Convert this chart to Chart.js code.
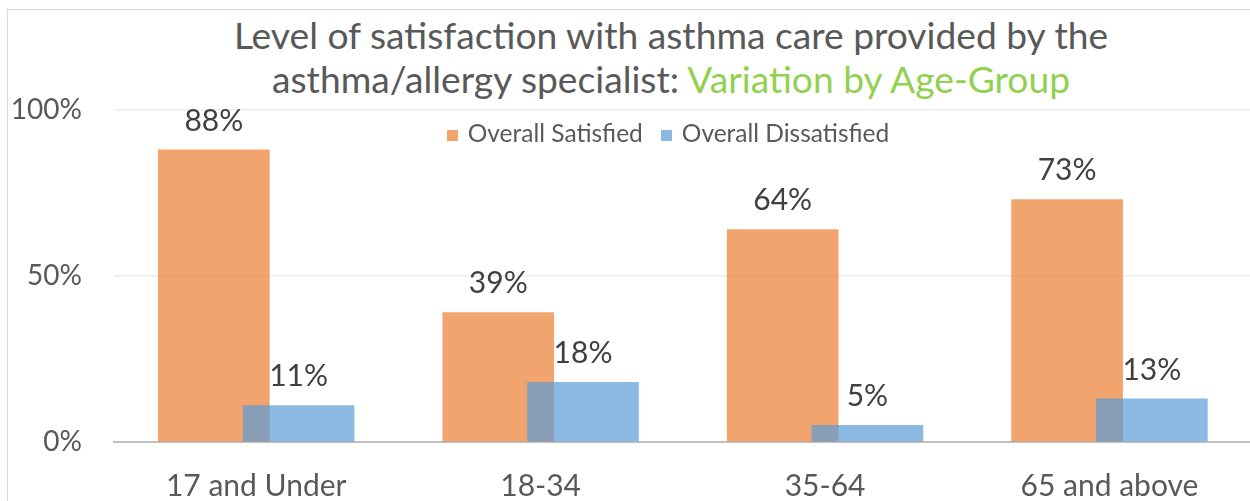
<!DOCTYPE html>
<html>
<head>
<meta charset="utf-8">
<script src="https://cdn.jsdelivr.net/npm/chart.js@4.4.1/dist/chart.umd.min.js"></script>
<style>
  html, body { margin: 0; padding: 0; background: #fff; }
  #wrap { position: relative; width: 1250px; height: 501px; overflow: hidden; }
  #frame { position: absolute; left: 7px; top: 9px; right: -2px; bottom: -2px;
    border-left: 1px solid #d9d9d9; border-top: 1px solid #d9d9d9; }
  #title { position: absolute; left: 92px; top: 13px; width: 1158px; text-align: center;
    font-family: Lato, sans-serif; font-size: 37.2px; line-height: 44px; color: #595959; }
  #title .hl { color: #92d050; }
  #legend { position: absolute; left: 0; top: 118px; width: 1336px; text-align: center;
    font-family: Lato, sans-serif; font-size: 24.5px; line-height: 30px; color: #595959; z-index: 2; }
  #legend .item { display: inline-block; margin: 0 9px; }
  #legend .box { display: inline-block; width: 11px; height: 11px; margin-right: 10px; vertical-align: 1px; }
  canvas { position: absolute; left: 0; top: 0; }
</style>
</head>
<body>
<div id="wrap">
  <div id="frame"></div>
  <div id="title">Level of satisfaction with asthma care provided by the<br>asthma/allergy specialist: <span class="hl">Variation by Age-Group</span></div>
  <canvas id="ageChart" width="1250" height="501"></canvas>
  <div id="legend"></div>
</div>
<script>
const categories = ['17 and Under', '18-34', '35-64', '65 and above'];
const satisfied = [88, 39, 64, 73];
const dissatisfied = [11, 18, 5, 13];
const seriesNames = ['Overall Satisfied', 'Overall Dissatisfied'];
const seriesColors = ['rgba(237,125,49,0.7)', 'rgba(91,155,213,0.7)'];

// bars of a group overlap, so place them on a linear axis around each category
const shift = 0.149;

const valueLabels = {
  id: 'valueLabels',
  afterDatasetsDraw(chart) {
    const ctx = chart.ctx;
    ctx.save();
    ctx.font = '30px Lato';
    ctx.fillStyle = '#404040';
    ctx.textAlign = 'center';
    ctx.textBaseline = 'middle';
    chart.data.datasets.forEach((ds, i) => {
      chart.getDatasetMeta(i).data.forEach((bar, j) => {
        ctx.fillText(ds.data[j].y + '%', bar.x, bar.y - 29);
      });
    });
    ctx.restore();
  }
};

const chart = new Chart('ageChart', {
  type: 'bar',
  data: {
    datasets: [
      {
        label: seriesNames[0],
        data: satisfied.map((v, i) => ({ x: i - shift, y: v })),
        backgroundColor: seriesColors[0],
        order: 1
      },
      {
        label: seriesNames[1],
        data: dissatisfied.map((v, i) => ({ x: i + shift, y: v })),
        backgroundColor: seriesColors[1],
        order: 0
      }
    ]
  },
  options: {
    responsive: false,
    animation: false,
    grouped: false,
    barThickness: 111,
    layout: { padding: { top: 110, left: 0, right: 0, bottom: 0 } },
    plugins: {
      tooltip: { enabled: false },
      legend: { display: false }
    },
    scales: {
      x: {
        type: 'linear',
        offset: false,
        min: -0.5,
        max: 3.494,
        grid: { display: false, drawTicks: false },
        border: { color: '#bfbfbf', width: 2 },
        afterBuildTicks: (scale) => { scale.ticks = categories.map((c, i) => ({ value: i })); },
        afterFit: (scale) => { scale.height = 59; },
        ticks: {
          padding: 26,
          color: '#595959',
          font: { family: 'Lato', size: 30 },
          callback: (v) => categories[v]
        }
      },
      y: {
        min: 0,
        max: 100,
        grid: { color: '#ededed', lineWidth: 1.5, drawTicks: false },
        border: { display: false },
        afterFit: (scale) => { scale.width = 114; },
        ticks: {
          stepSize: 50,
          padding: 32,
          color: '#595959',
          font: { family: 'Lato', size: 28 },
          callback: (v) => v + '%'
        }
      }
    }
  },
  plugins: [valueLabels]
});

// legend as html, in dataset order
document.getElementById('legend').innerHTML = chart.data.datasets.map((ds) =>
  '<span class="item"><span class="box" style="background:' + ds.backgroundColor + '"></span>' + ds.label + '</span>'
).join('');
</script>
</body>
</html>
